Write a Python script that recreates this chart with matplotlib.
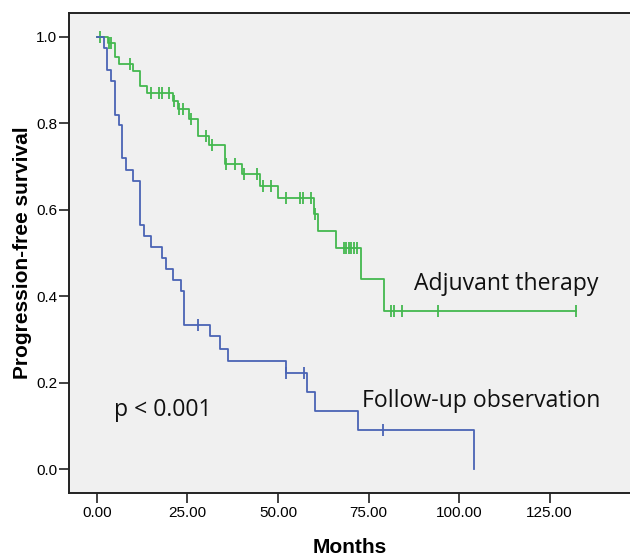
import numpy as np
import matplotlib
matplotlib.use("Agg")
import matplotlib.pyplot as plt

# Follow-up observation (blue)
obs_times = [0, 2.0, 2.9, 4.0, 5.0, 6.1, 7.0, 8.0, 10.0, 12.0, 13.0, 15.0, 18.0, 19.1,
             21.0, 23.1, 24.1, 31.1, 34.1, 36.1, 52.1, 58.1, 60.1, 72.1, 104.1]
obs_surv = [1.0, 0.975, 0.923, 0.897, 0.82, 0.795, 0.719, 0.693, 0.667, 0.565, 0.54, 0.514,
            0.488, 0.462, 0.437, 0.411, 0.334, 0.307, 0.279, 0.251, 0.223, 0.179, 0.135,
            0.090, 0.0]
obs_censor = [28.0, 52.1, 57.1, 79.1]

# Adjuvant therapy (green)
adj_times = [0, 3.1, 5.05, 6.1, 10.0, 12.0, 13.9, 21.0, 22.5, 25.5, 28.0, 31.0, 35.3, 40.2,
             45.0, 50.1, 60.0, 61.0, 66.1, 73.0, 79.2]
adj_surv = [1.0, 0.985, 0.954, 0.938, 0.921, 0.887, 0.870, 0.852, 0.832, 0.811, 0.770,
            0.749, 0.705, 0.682, 0.656, 0.627, 0.590, 0.552, 0.512, 0.440, 0.366]
adj_censor = [0.8, 3.4, 4.0, 9.1, 15.0, 17.1, 18.0, 20.0, 21.2, 22.8, 23.9, 25.9, 30.1, 31.9,
              35.7, 38.0, 40.6, 44.1, 46.0, 48.2, 52.1, 56.2, 57.0, 59.1, 60.2, 68.1, 68.8,
              69.6, 70.3, 71.1, 71.9, 81.1, 82.0, 84.2, 94.1, 132.2]

x_ticks = [0, 25, 50, 75, 100, 125]
y_ticks = [0.0, 0.2, 0.4, 0.6, 0.8, 1.0]

GREEN = "#44b84f"
BLUE = "#4a64b5"

def step_at(times, surv, t):
    i = np.searchsorted(times, t, side="right") - 1
    return surv[i]

fig = plt.figure(figsize=(6.30, 5.57), dpi=100)
ax = fig.add_axes([69/630, 1-493/557, 1-69/630, (493-13)/557])
ax.set_facecolor("#f0f0f0")

# Adjuvant therapy curve (extend to last censor)
at = list(adj_times) + [max(adj_censor)]
asv = list(adj_surv) + [adj_surv[-1]]
ax.step(at, asv, where="post", color=GREEN, lw=1.3, zorder=3)
ax.plot(adj_censor, [step_at(adj_times, adj_surv, t) for t in adj_censor], ls="none",
        marker="|", ms=9, mew=1.3, color=GREEN, zorder=3)

ax.step(obs_times, obs_surv, where="post", color=BLUE, lw=1.3, zorder=4)
ax.plot(obs_censor, [step_at(obs_times, obs_surv, t) for t in obs_censor], ls="none",
        marker="|", ms=9, mew=1.3, color=BLUE, zorder=4)

ax.set_xlim(-7.7, 147.2)
ax.set_ylim(-0.055, 1.055)
ax.set_xticks(x_ticks)
ax.set_xticklabels([f"{v:.2f}" for v in x_ticks])
ax.set_yticks(y_ticks)
ax.set_yticklabels([f"{v:.1f}" for v in y_ticks])
ax.tick_params(direction="out", length=7, width=1.2, color="#222222",
               labelsize=11, pad=1.5)
for lab in ax.get_xticklabels() + ax.get_yticklabels():
    lab.set_fontfamily("Liberation Sans")
ax.tick_params(axis="x", pad=2.5)
for s in ["left", "bottom", "top"]:
    ax.spines[s].set_linewidth(1.4)
    ax.spines[s].set_color("#222222")
ax.spines["right"].set_visible(False)

ax.set_xlabel("Months", fontfamily="Liberation Sans", fontweight="bold", fontsize=15,
              labelpad=13)
ax.set_ylabel("Progression-free survival", fontfamily="Liberation Sans", fontweight="bold",
              fontsize=15, labelpad=3)

ax.text(87.6, 0.428, "Adjuvant therapy", fontfamily="Open Sans", fontsize=16.6,
        ha="left", va="center", color="#111111")
ax.text(73.2, 0.158, "Follow-up observation", fontfamily="Open Sans", fontsize=16.6,
        ha="left", va="center", color="#111111")
ax.text(4.7, 0.138, "p < 0.001", fontfamily="Open Sans", fontsize=16.6,
        ha="left", va="center", color="#111111")

fig.savefig("out.png", dpi=100)
